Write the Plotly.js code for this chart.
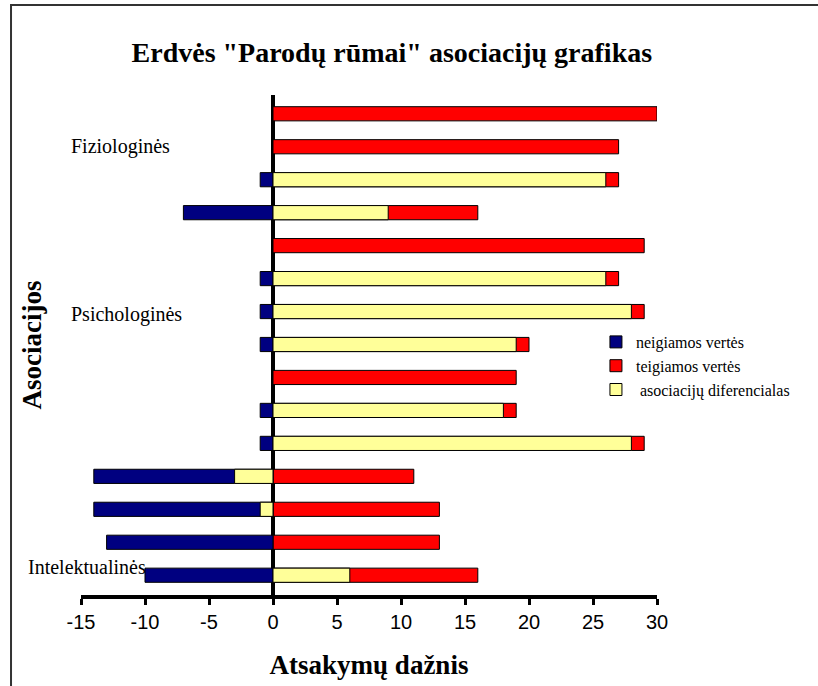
<!DOCTYPE html>
<html>
<head>
<meta charset="utf-8">
<script src="https://cdn.plot.ly/plotly-3.0.1.min.js"></script>
<style>html,body{margin:0;padding:0;background:#fff;}#chart{width:818px;height:686px;}</style>
</head>
<body>
<div id="chart"></div>
<script>
// Rows listed from top to bottom
const teigiamos = [30, 27, 27, 16, 29, 27, 29, 20, 19, 19, 29, 11, 13, 13, 16];
const neigiamos = [null, null, -1, -7, null, -1, -1, -1, null, -1, -1, -14, -14, -13, -10];
const diferencialas = [null, null, 26, 9, null, 26, 28, 19, null, 18, 28, -3, -1, null, 6];
const groupLabels = ["Fiziologinės", "Psichologinės", "Intelektualinės"];
const groupRows = [1, 6.1, 13.75];
const xTicks = [-15, -10, -5, 0, 5, 10, 15, 20, 25, 30];
const seriesNames = ["neigiamos vertės", "teigiamos vertės", " asociacijų diferencialas"];

const n = teigiamos.length;
const ypos = teigiamos.map((_, i) => n - 1 - i);
const serif = "Liberation Serif, Times New Roman, serif";

const common = {type: 'bar', orientation: 'h', width: 0.43, y: ypos, hoverinfo: 'x'};
const traces = [
  Object.assign({}, common, {name: seriesNames[1], x: teigiamos, legendrank: 2,
    marker: {color: '#ff0000', line: {color: '#000', width: 1}}}),
  Object.assign({}, common, {name: seriesNames[0], x: neigiamos, legendrank: 1,
    marker: {color: '#000080', line: {color: '#000', width: 1}}}),
  Object.assign({}, common, {name: seriesNames[2], x: diferencialas, legendrank: 3,
    marker: {color: '#ffff99', line: {color: '#000', width: 1}}})
];

const annotations = groupLabels.map((t, k) => ({
  text: t, xref: 'paper', yref: 'y', x: k === 2 ? -0.0955 : -0.0208, y: n - 1 - groupRows[k],
  xanchor: 'left', yanchor: 'middle', showarrow: false,
  font: {family: serif, size: 20, color: '#000'}
}));

const layout = {
  width: 818, height: 686,
  paper_bgcolor: '#fff', plot_bgcolor: '#fff',
  margin: {l: 81, r: 161, t: 95, b: 91},
  barmode: 'overlay',
  showlegend: true,
  title: {text: 'Erdvės "Parodų rūmai" asociacijų grafikas', xref: 'container', yref: 'container',
    x: 0.479, y: 0.924, xanchor: 'center', yanchor: 'middle',
    font: {family: serif, size: 28, color: '#000', weight: 'bold'}},
  xaxis: {
    range: [-15, 30], tickvals: xTicks, ticktext: xTicks.map(String),
    showgrid: false, zeroline: true, zerolinecolor: '#000', zerolinewidth: 3.5,
    showline: true, linecolor: '#000', linewidth: 3.5, ticks: 'outside', ticklen: 6,
    tickwidth: 3, tickcolor: '#000', layer: 'above traces',
    tickfont: {family: 'Liberation Sans, Arial, sans-serif', size: 20, color: '#000'},
    title: {text: 'Atsakymų dažnis', standoff: 24,
      font: {family: serif, size: 27, color: '#000', weight: 'bold'}},
    automargin: false, fixedrange: true
  },
  yaxis: {
    range: [-0.6, 14.57], showgrid: false, zeroline: false, showline: false,
    showticklabels: false, ticks: '',
    title: {text: 'Asociacijos', standoff: 30,
      font: {family: serif, size: 27, color: '#000', weight: 'bold'}},
    automargin: false, fixedrange: true
  },
  legend: {x: 0.894, y: 0.54, xanchor: 'left', yanchor: 'top', traceorder: 'normal',
    bgcolor: 'rgba(0,0,0,0)', font: {family: serif, size: 16, color: '#000'}},
  annotations: annotations,
  shapes: [{type: 'rect', xref: 'paper', yref: 'paper', x0: -0.1215, x1: 1.35, y0: -0.25, y1: 1.18,
    line: {color: '#333', width: 2}, fillcolor: 'rgba(0,0,0,0)', layer: 'above'}]
};

Plotly.newPlot('chart', traces, layout, {displayModeBar: false, staticPlot: true});
</script>
</body>
</html>
